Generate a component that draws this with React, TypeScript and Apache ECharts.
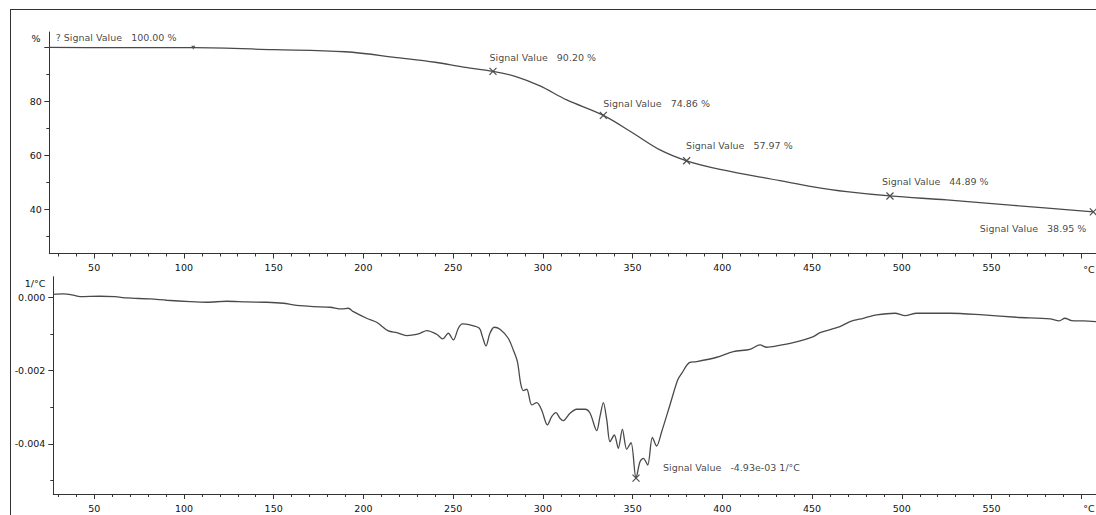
import React, { useEffect, useRef } from "react";
import * as echarts from "echarts";

// ---- TG curve (mass %, vs temperature °C) ----
const tgTemp = [25, 60, 105.2, 150, 189.8, 220.4, 240, 255.7, 272.2, 285.4, 298.4, 313.3, 333.7, 350.4, 365.3, 380.1, 398.7, 432.1, 450.7, 469.3, 493.4, 525, 562.1, 606.7];
const tgMass = [100.1, 100.05, 100.0, 99.3, 98.5, 96.2, 94.6, 92.8, 91.2, 89.2, 85.8, 80.6, 74.86, 68.2, 62.0, 57.97, 54.8, 50.6, 48.3, 46.5, 44.89, 43.4, 41.4, 38.95];

// TG markers
const tgStartTemp = 105.2;
const tgStartMass = 100.0;
const tgStartText = "? Signal Value   100.00 %";
const tgMarkTemp = [272.2, 333.7, 380.1, 493.4, 606.7];
const tgMarkMass = [91.2, 74.86, 57.97, 44.89, 38.95];
const tgMarkText = ["90.20 %", "74.86 %", "57.97 %", "44.89 %", "38.95 %"];

// ---- DTG curve (1/°C) ----
const dtgTemp = [27.2, 32.8, 38.4, 42.1, 53.2, 61.6, 68.1, 81.1, 90.4, 103.4, 112.7, 123.8, 135.0, 146.1, 155.4, 161.0, 164.7, 172.1, 181.4, 187.9, 191.6, 194.4, 201.8, 207.4, 213.9, 218.6, 224.1, 227.8, 231.5, 235.3, 240.8, 244.2, 247.3, 250.1, 252.9, 255.1, 259.4, 264.6, 266.3, 268.3, 270.5, 272.9, 276.1, 280.7, 283.5, 285.8, 287.6, 289.1, 291.0, 293.8, 296.6, 299.3, 302.5, 304.9, 307.3, 309.5, 311.4, 315.1, 318.8, 323.5, 326.3, 330.0, 331.8, 333.7, 335.6, 337.4, 339.8, 342.0, 344.3, 346.7, 349.1, 351.9, 354.1, 356.0, 358.4, 361.0, 363.4, 366.2, 370.8, 375.1, 377.4, 381.6, 385.7, 396.9, 406.1, 415.4, 421.0, 424.7, 430.3, 439.5, 450.7, 454.4, 465.5, 471.1, 478.5, 486.0, 496.2, 501.8, 508.3, 517.5, 526.9, 545.4, 564.0, 582.6, 587.7, 590.9, 594.6, 601.1, 608.2];
const dtgRate = [0.08e-3, 0.09e-3, 0.055e-3, 0.016e-3, 0.027e-3, 0.016e-3, -0.019e-3, -0.046e-3, -0.082e-3, -0.12e-3, -0.136e-3, -0.109e-3, -0.128e-3, -0.136e-3, -0.164e-3, -0.21e-3, -0.23e-3, -0.256e-3, -0.273e-3, -0.319e-3, -0.3e-3, -0.393e-3, -0.573e-3, -0.682e-3, -0.919e-3, -0.965e-3, -1.047e-3, -1.028e-3, -0.982e-3, -0.911e-3, -1.01e-3, -1.137e-3, -0.982e-3, -1.164e-3, -0.845e-3, -0.728e-3, -0.755e-3, -0.845e-3, -1.074e-3, -1.328e-3, -0.982e-3, -0.818e-3, -0.873e-3, -1.118e-3, -1.437e-3, -1.756e-3, -2.345e-3, -2.547e-3, -2.509e-3, -2.937e-3, -2.874e-3, -3.073e-3, -3.482e-3, -3.256e-3, -3.147e-3, -3.3e-3, -3.365e-3, -3.163e-3, -3.054e-3, -3.054e-3, -3.163e-3, -3.638e-3, -3.256e-3, -2.874e-3, -3.346e-3, -3.938e-3, -3.755e-3, -4.118e-3, -3.6e-3, -4.145e-3, -3.965e-3, -4.93e-3, -4.483e-3, -4.391e-3, -4.573e-3, -3.818e-3, -4.055e-3, -3.665e-3, -2.937e-3, -2.255e-3, -2.073e-3, -1.783e-3, -1.756e-3, -1.636e-3, -1.484e-3, -1.418e-3, -1.301e-3, -1.364e-3, -1.328e-3, -1.238e-3, -1.074e-3, -0.965e-3, -0.802e-3, -0.665e-3, -0.573e-3, -0.483e-3, -0.436e-3, -0.502e-3, -0.436e-3, -0.436e-3, -0.436e-3, -0.483e-3, -0.545e-3, -0.592e-3, -0.646e-3, -0.573e-3, -0.638e-3, -0.646e-3, -0.665e-3];
const dtgPeakTemp = 351.9;
const dtgPeakRate = -4.93e-3;
const dtgPeakText = "-4.93e-03 1/°C";

// ---- ticks ----
const tempLabels = [50, 100, 150, 200, 250, 300, 350, 400, 450, 500, 550];
const tempMajorTicks = [50, 100, 150, 200, 250, 300, 350, 400, 450, 500, 550, 600];
const tempMinorTicks: number[] = [];
for (let t = 30; t <= 600; t += 10) if (t % 50 !== 0) tempMinorTicks.push(t);
const massLabels = [40, 60, 80];
const massMajorTicks = [40, 60, 80, 100];
const massMinorTicks = [30, 50, 70, 90];
const rateLabels = [0, -0.002, -0.004];
const rateMinorTicks = [-0.001, -0.003, -0.005];

const FONT = "'DejaVu Sans', sans-serif";
const FS = 9.5;
const TXT = "#111";
const AX = "#333";
const LINE = "#4a4a4a";

const xMarkSymbol = "path://M0,0L10,10M10,0L0,10";

function xAxes(gridIndex: number, min: number) {
  return [
    {
      type: "value", gridIndex, position: "bottom", min, max: 608.2,
      axisLine: { show: true, onZero: false, lineStyle: { color: AX, width: 1 } },
      axisTick: { show: true, customValues: tempMajorTicks, length: 5, lineStyle: { color: AX } },
      axisLabel: { show: true, customValues: tempLabels, margin: 9, color: TXT, fontFamily: FONT, fontSize: FS },
      splitLine: { show: false },
    },
    {
      type: "value", gridIndex, position: "bottom", min, max: 608.2,
      axisLine: { show: false, onZero: false },
      axisTick: { show: true, customValues: tempMinorTicks, length: 3, lineStyle: { color: AX } },
      axisLabel: { show: false },
      splitLine: { show: false },
    },
  ];
}

export default function App() {
  const ref = useRef<HTMLDivElement>(null);
  useEffect(() => {
    if (!ref.current) return;
    const chart = echarts.init(ref.current, undefined, { renderer: "svg" });

    const tgData = tgTemp.map((t, i) => [t, tgMass[i]]);
    const dtgData = dtgTemp.map((t, i) => [t, dtgRate[i]]);
    const tgLabelOffsets: Array<[number, number]> = [[-3.5, -14], [0, -12], [-0.5, -15], [-8, -14], [-7, 17]];
    const tgLabelAlign = ["left", "left", "left", "left", "right"];
    const tgMarks = tgMarkTemp.map((t, i) => ({
      value: [t, tgMarkMass[i]],
      label: {
        show: true,
        formatter: "Signal Value   " + tgMarkText[i],
        position: "inside",
        align: tgLabelAlign[i],
        verticalAlign: "middle",
        offset: tgLabelOffsets[i],
      },
    }));

    const labelBase = { color: TXT, fontFamily: FONT, fontSize: FS };

    chart.setOption({
      animation: false,
      backgroundColor: "#ffffff",
      grid: [
        { left: 49.3, right: 0, top: 32, height: 221.5 },
        { left: 53.3, right: 0, top: 276.7, height: 217.3 },
      ],
      xAxis: [...xAxes(0, 25), ...xAxes(1, 27.2)],
      yAxis: [
        {
          type: "value", gridIndex: 0, position: "left", min: 23.5, max: 105.84,
          axisLine: { show: true, onZero: false, lineStyle: { color: AX, width: 1 } },
          axisTick: { show: true, customValues: massMajorTicks, length: 5, lineStyle: { color: AX } },
          axisLabel: { show: true, customValues: massLabels, margin: 7.5, ...labelBase },
          splitLine: { show: false },
        },
        {
          type: "value", gridIndex: 0, position: "left", min: 23.5, max: 105.84,
          axisLine: { show: false, onZero: false },
          axisTick: { show: true, customValues: massMinorTicks, length: 3, lineStyle: { color: AX } },
          axisLabel: { show: false },
          splitLine: { show: false },
        },
        {
          type: "value", gridIndex: 1, position: "left", min: -0.005364, max: 0.00056,
          axisLine: { show: true, onZero: false, lineStyle: { color: AX, width: 1 } },
          axisTick: { show: true, customValues: rateLabels, length: 5, lineStyle: { color: AX } },
          axisLabel: {
            show: true, customValues: rateLabels, margin: 8, ...labelBase,
            formatter: (v: number) => (Math.abs(v) < 1e-9 ? "0.000" : v.toFixed(3)),
          },
          splitLine: { show: false },
        },
        {
          type: "value", gridIndex: 1, position: "left", min: -0.005364, max: 0.00056,
          axisLine: { show: false, onZero: false },
          axisTick: { show: true, customValues: rateMinorTicks, length: 3, lineStyle: { color: AX } },
          axisLabel: { show: false },
          splitLine: { show: false },
        },
      ],
      series: [
        {
          type: "line", xAxisIndex: 0, yAxisIndex: 0, data: tgData,
          showSymbol: false, smooth: 0.35, lineStyle: { color: LINE, width: 1.3 }, silent: true,
        },
        {
          type: "scatter", xAxisIndex: 0, yAxisIndex: 0, clip: false,
          symbol: "triangle", symbolRotate: 180, symbolSize: 4,
          itemStyle: { color: "#333" },
          data: [{
            value: [tgStartTemp, tgStartMass],
            label: {
              show: true, formatter: tgStartText, position: "inside", align: "left",
              verticalAlign: "middle", offset: [-137.5, -10], ...labelBase,
            },
          }],
          label: labelBase,
        },
        {
          type: "scatter", xAxisIndex: 0, yAxisIndex: 0, clip: false,
          symbol: xMarkSymbol, symbolSize: 7,
          itemStyle: { color: "none", borderColor: "#222", borderWidth: 1.2 },
          label: labelBase,
          data: tgMarks,
        },
        {
          type: "line", xAxisIndex: 2, yAxisIndex: 2, data: dtgData,
          showSymbol: false, smooth: 0.3, lineStyle: { color: LINE, width: 1.3 }, silent: true,
        },
        {
          type: "scatter", xAxisIndex: 2, yAxisIndex: 2, clip: false,
          symbol: xMarkSymbol, symbolSize: 7,
          itemStyle: { color: "none", borderColor: "#222", borderWidth: 1.2 },
          label: labelBase,
          data: [{
            value: [dtgPeakTemp, dtgPeakRate],
            label: {
              show: true, formatter: "Signal Value   " + dtgPeakText, position: "inside",
              align: "left", verticalAlign: "middle", offset: [27, -10.5],
            },
          }],
        },
      ],
      graphic: [
        { type: "line", shape: { x1: 10, y1: 9.5, x2: 1096, y2: 9.5 }, style: { stroke: "#333", lineWidth: 1 }, silent: true },
        { type: "line", shape: { x1: 10.5, y1: 9, x2: 10.5, y2: 515 }, style: { stroke: "#333", lineWidth: 1 }, silent: true },
        { type: "text", x: 36, y: 38, style: { text: "%", fill: TXT, font: `${FS}px ${FONT}`, textAlign: "center", textVerticalAlign: "middle" } },
        { type: "text", x: 35, y: 283.5, style: { text: "1/°C", fill: TXT, font: `${FS}px ${FONT}`, textAlign: "center", textVerticalAlign: "middle" } },
        { type: "text", x: 1089, y: 269, style: { text: "°C", fill: TXT, font: `${FS}px ${FONT}`, textAlign: "center", textVerticalAlign: "middle" } },
        { type: "text", x: 1089, y: 508, style: { text: "°C", fill: TXT, font: `${FS}px ${FONT}`, textAlign: "center", textVerticalAlign: "middle" } },
      ],
    });
    return () => chart.dispose();
  }, []);

  return (
    <div
      ref={ref}
      style={{ position: "fixed", left: 0, top: 0, width: 1096, height: 515, background: "#fff" }}
    />
  );
}
